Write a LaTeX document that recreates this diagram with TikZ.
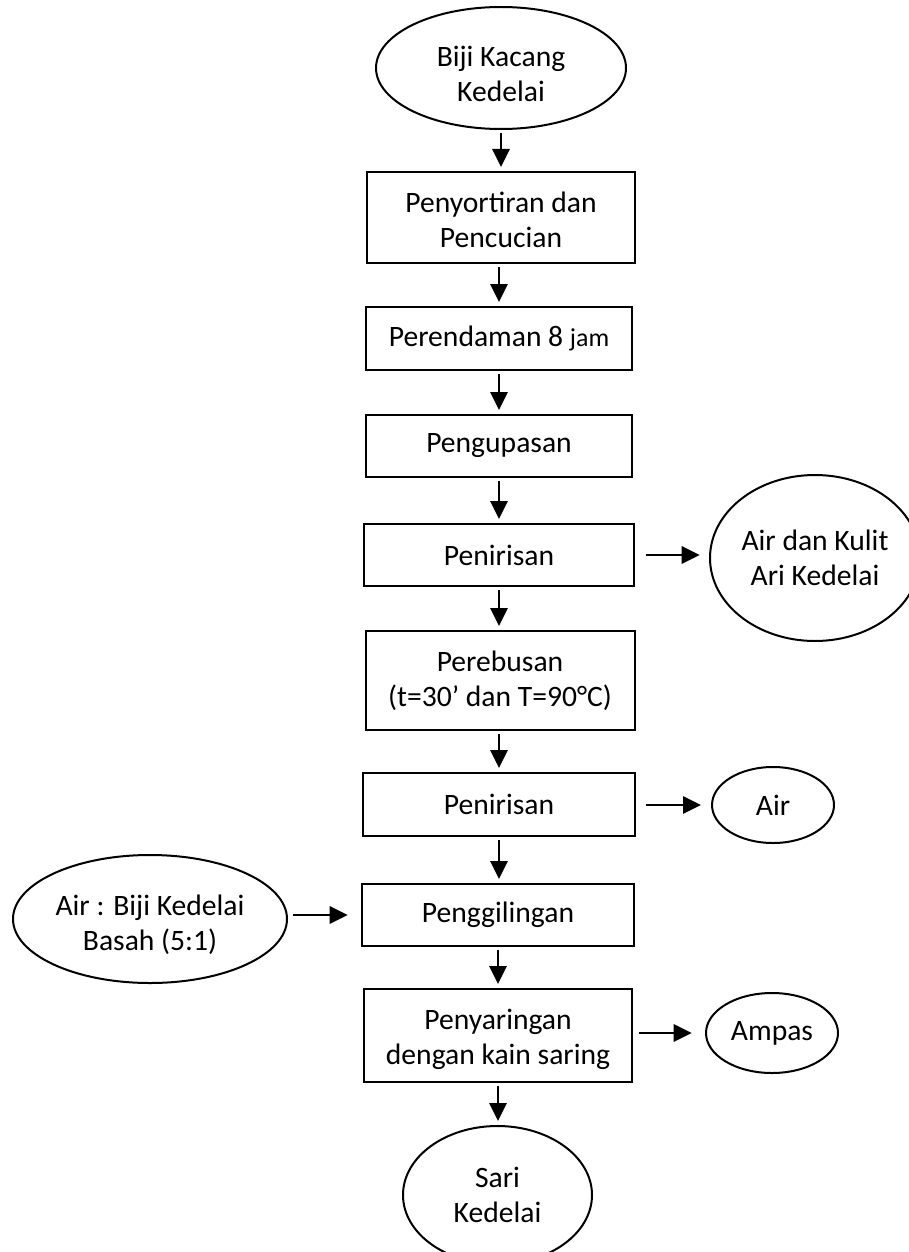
\documentclass[tikz,border=0pt]{standalone}
\usepackage{fontspec}
\setmainfont{Carlito}
\usetikzlibrary{arrows.meta,shapes.geometric}
\newcommand{\lift}[1]{\rule{0pt}{#1}}
\begin{document}
\begin{tikzpicture}[x=0.75pt,y=-0.75pt,
  lbl/.style={font=\fontsize{22.2}{26.25}\selectfont, align=center, inner sep=0pt, line width=1.5pt, draw=black},
  box/.style={lbl, rectangle},
  oval/.style={lbl, ellipse},
  arr/.style={-{Triangle[length=13.5pt,width=13pt]}, line width=1.5pt},
]
\useasboundingbox (0,0) rectangle (909,1252);
\clip (0,0) rectangle (909,1252);

\node[oval, minimum width=250*0.75pt, minimum height=122*0.75pt] (e1) at (501,68) {\lift{23.5pt}Biji Kacang\\Kedelai};
\node[box, minimum width=268*0.75pt, minimum height=91*0.75pt] (b1) at (501,217.5) {\lift{19.5pt}Penyortiran dan\\Pencucian};
\node[box, minimum width=266*0.75pt, minimum height=63*0.75pt] (b2) at (499,338.5) {Perendaman 8 {\fontsize{19.4}{23}\selectfont jam}};
\node[box, minimum width=266*0.75pt, minimum height=62*0.75pt] (b3) at (499,446) {Pengupasan};
\node[box, minimum width=270*0.75pt, minimum height=62*0.75pt] (b4) at (499,555) {Penirisan};
\node[oval, minimum width=210*0.75pt, minimum height=166*0.75pt] (e2) at (815,558) {Air dan Kulit\\Ari Kedelai};
\node[box, minimum width=269*0.75pt, minimum height=99*0.75pt] (b5) at (500,680.5) {Perebusan\\(t=30’ dan T=90°C)};
\node[box, minimum width=272*0.75pt, minimum height=63*0.75pt] (b6) at (499,804.5) {Penirisan};
\node[oval, minimum width=122*0.75pt, minimum height=76*0.75pt] (e3) at (773,805) {Air};
\node[box, minimum width=272*0.75pt, minimum height=62*0.75pt] (b7) at (498,915) {Penggilingan};
\node[oval, minimum width=274*0.75pt, minimum height=128*0.75pt] (e4) at (150,919) {\lift{24.5pt}Air : Biji Kedelai\\Basah (5:1)};
\node[box, minimum width=268*0.75pt, minimum height=93*0.75pt] (b8) at (498,1035.5) {\lift{20.5pt}Penyaringan\\dengan kain saring};
\node[oval, minimum width=132*0.75pt, minimum height=80*0.75pt] (e5) at (772,1033) {Ampas};
\node[oval, minimum width=189*0.75pt, minimum height=138*0.75pt] (e6) at (497.5,1195) {Sari\\Kedelai};

\draw[arr, shorten <=2pt, shorten >=3pt] (e1.south) -- (e1.south |- b1.north);
\draw[arr, shorten <=2.5pt, shorten >=3pt] (b2.north |- b1.south) -- (b2.north);
\draw[arr, shorten <=2.5pt, shorten >=3pt] (b2.south) -- (b3.north);
\draw[arr, shorten <=2.5pt, shorten >=3pt] (b3.south) -- (b4.north);
\draw[arr, shorten <=2.5pt, shorten >=3pt] (b4.south) -- (b4.south |- b5.north);
\draw[arr, shorten <=2.5pt, shorten >=3pt] (b6.north |- b5.south) -- (b6.north);
\draw[arr, shorten <=2.5pt, shorten >=3pt] (b6.south) -- (b6.south |- b7.north);
\draw[arr, shorten <=2.5pt, shorten >=3pt] (b7.south) -- (b8.north);
\draw[arr, shorten <=2.5pt, shorten >=3pt] (b8.south) -- (b8.south |- e6.north);

\draw[arr, shorten <=8pt, shorten >=7pt] (b4.east) -- (b4.east -| e2.west);
\draw[arr, shorten <=7.5pt, shorten >=7.5pt] (b6.east |- e3.west) -- (e3.west);
\draw[arr, shorten <=4pt, shorten >=10pt] (e4.east |- b7.west) -- (b7.west);
\draw[arr, shorten <=4.5pt, shorten >=10pt] (b8.east |- e5.west) -- (e5.west);
\end{tikzpicture}
\end{document}
